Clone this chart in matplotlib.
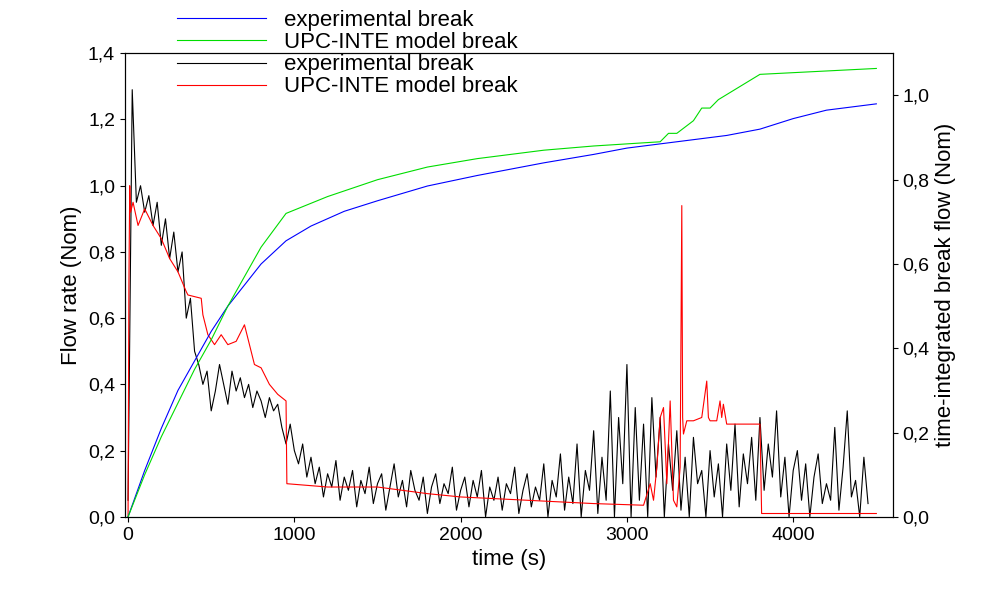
import numpy as np
import matplotlib.pyplot as plt
from matplotlib.ticker import FuncFormatter

plt.rcParams['font.family'] = ['Liberation Sans', 'DejaVu Sans']

# integrated flow (right axis)
cum_t = [0, 100, 200, 300, 400, 500, 600, 700, 800, 950, 1200, 1500, 1800, 2100, 2500, 2800, 3000, 3200, 3250, 3300, 3400, 3450, 3500, 3550, 3800, 4500]
cum_green = [0, 0.10, 0.19, 0.27, 0.35, 0.42, 0.50, 0.57, 0.64, 0.72, 0.76, 0.80, 0.83, 0.85, 0.87, 0.88, 0.885, 0.89, 0.91, 0.91, 0.94, 0.97, 0.97, 0.99, 1.05, 1.064]
cum_t_b = [0, 100, 200, 300, 400, 500, 600, 700, 800, 950, 1100, 1300, 1500, 1800, 2100, 2500, 2800, 3000, 3200, 3400, 3600, 3800, 4000, 4200, 4500]
cum_blue = [0, 0.11, 0.21, 0.30, 0.37, 0.44, 0.50, 0.55, 0.60, 0.655, 0.69, 0.725, 0.75, 0.785, 0.81, 0.84, 0.86, 0.875, 0.885, 0.895, 0.905, 0.92, 0.945, 0.965, 0.98]

# model break flow (left axis)
red_t = [0, 5, 10, 15, 30, 60, 100, 150, 200, 250, 300, 350, 360, 440, 450, 480, 520, 560, 600, 650, 700, 740, 760, 800, 850, 900, 950, 955, 1200, 1500, 1800, 2000, 2400, 2800, 3100, 3140, 3160, 3180, 3200, 3220, 3240, 3260, 3280, 3300, 3320, 3330, 3335, 3340, 3360, 3400, 3450, 3480, 3490, 3500, 3540, 3560, 3570, 3580, 3600, 3800, 3810, 4500]
red_v = [0, 0.70, 1.00, 0.92, 0.95, 0.88, 0.93, 0.88, 0.84, 0.78, 0.74, 0.68, 0.67, 0.66, 0.61, 0.55, 0.52, 0.55, 0.52, 0.53, 0.58, 0.50, 0.46, 0.45, 0.40, 0.37, 0.35, 0.10, 0.09, 0.09, 0.07, 0.06, 0.05, 0.04, 0.035, 0.10, 0.05, 0.15, 0.30, 0.33, 0.10, 0.35, 0.05, 0.03, 0.15, 0.94, 0.30, 0.25, 0.29, 0.29, 0.30, 0.41, 0.30, 0.29, 0.29, 0.35, 0.30, 0.34, 0.28, 0.28, 0.01, 0.01]

# experimental break flow (left axis), sampled every 25 s
black_v = [0.05, 1.29, 0.95, 1.00, 0.92, 0.97, 0.88, 0.95, 0.82, 0.90, 0.78, 0.86, 0.74, 0.80, 0.60, 0.66, 0.50, 0.46, 0.40, 0.44, 0.32, 0.38, 0.46, 0.40, 0.34, 0.44, 0.38, 0.42, 0.36, 0.40, 0.33, 0.38, 0.35, 0.30, 0.36, 0.32, 0.34, 0.27, 0.22, 0.28, 0.20, 0.16, 0.22, 0.12, 0.18, 0.10, 0.15, 0.06, 0.13, 0.09,
           0.17, 0.05, 0.12, 0.08, 0.14, 0.03, 0.11, 0.07, 0.15, 0.04, 0.10, 0.13, 0.02, 0.09, 0.16, 0.06, 0.11, 0.03, 0.14, 0.08, 0.05, 0.12, 0.01, 0.09, 0.13, 0.04, 0.10, 0.07, 0.15, 0.02, 0.08, 0.12, 0.03, 0.11, 0.06, 0.14, 0.00, 0.09, 0.05, 0.12, 0.02, 0.10, 0.07, 0.15, 0.01, 0.08, 0.13, 0.03, 0.09, 0.05,
           0.16, 0.00, 0.11, 0.06, 0.19, 0.02, 0.12, 0.04, 0.22, 0.00, 0.14, 0.08, 0.26, 0.01, 0.18, 0.05, 0.38, 0.00, 0.30, 0.10, 0.46, 0.00, 0.33, 0.05, 0.28, 0.00, 0.36, 0.12, 0.30, 0.00, 0.22, 0.08, 0.26, 0.02, 0.18, 0.00, 0.24, 0.10, 0.14, 0.00, 0.20, 0.06, 0.16, 0.00, 0.22, 0.08, 0.28, 0.03, 0.19, 0.10,
           0.24, 0.05, 0.30, 0.08, 0.22, 0.12, 0.32, 0.06, 0.18, 0.00, 0.14, 0.20, 0.05, 0.16, 0.00, 0.12, 0.19, 0.04, 0.10, 0.05,
           0.27, 0.02, 0.15, 0.32, 0.06, 0.11, 0.00, 0.18, 0.04]
black_t = np.arange(len(black_v)) * 25

fig = plt.figure(figsize=(9.9, 5.92), dpi=100)
ax = fig.add_axes([0.126, 0.127, 0.776, 0.783])
ax2 = ax.twinx()

l3, = ax.plot(black_t, black_v, color='black', lw=0.8)
l4, = ax.plot(red_t, red_v, color='red', lw=0.8)
l1, = ax2.plot(cum_t_b, cum_blue, color='blue', lw=0.8)
l2, = ax2.plot(cum_t, cum_green, color='#00dd00', lw=0.8)

ax.set_xlim(-20, 4600)
ax.set_ylim(0, 1.4)
ax2.set_ylim(0, 1.1)
ax.set_xticks([0, 1000, 2000, 3000, 4000])
ax.set_yticks(np.arange(0, 1.41, 0.2))
ax2.set_yticks(np.arange(0, 1.01, 0.2))
comma = FuncFormatter(lambda v, p: f"{v:.1f}".replace('.', ','))
ax.yaxis.set_major_formatter(comma)
ax2.yaxis.set_major_formatter(comma)
for a in (ax, ax2):
    a.tick_params(labelsize=14, direction='out')
ax.set_xlabel('time (s)', fontsize=16)
ax.set_ylabel('Flow rate (Nom)', fontsize=16)
ax2.set_ylabel('time-integrated break flow (Nom)', fontsize=16)

fig.legend([l1, l2, l3, l4],
           ['experimental break', 'UPC-INTE model break', 'experimental break', 'UPC-INTE model break'],
           loc='upper left', bbox_to_anchor=(0.17, 0.998), frameon=False, fontsize=16,
           handlelength=4, labelspacing=0.05, borderaxespad=0)

fig.savefig('out.png', dpi=100)
